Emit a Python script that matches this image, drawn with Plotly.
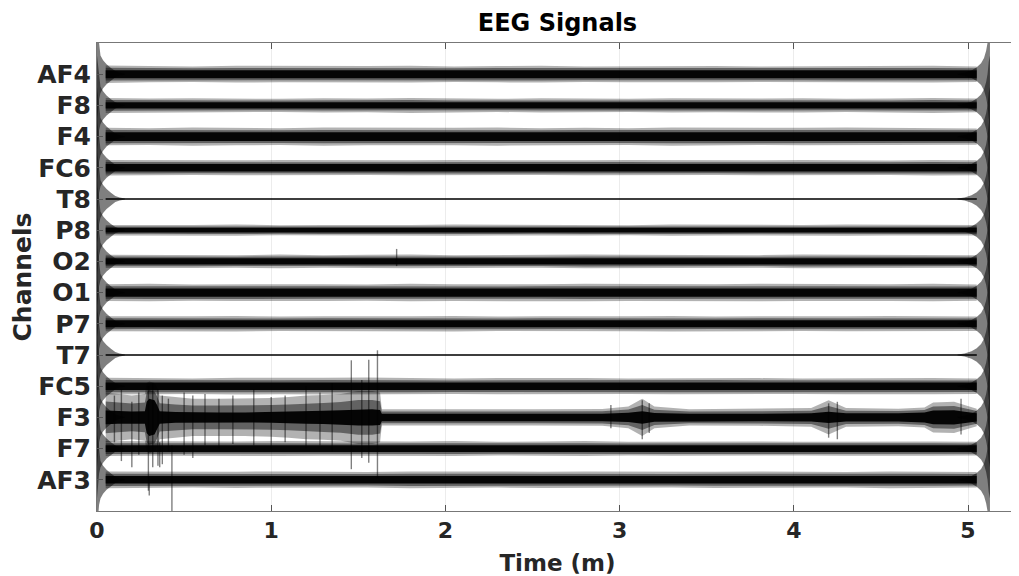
import plotly.graph_objects as go

# ---------------- data ----------------
channels = ["AF3", "F7", "F3", "FC5", "T7", "P7", "O1", "O2", "P8", "T8", "FC6", "F4", "F8", "AF4"]
channel_pos = list(range(1, 15))

# common time grid (minutes) for band envelopes of ordinary channels
t_env = [0.05, 0.3, 0.55, 0.8, 1.05, 1.3, 1.55, 1.8, 2.05, 2.3, 2.55,
         2.8, 3.05, 3.3, 3.55, 3.8, 4.05, 4.3, 4.55, 4.8, 5.05]

# dense-core half width (channel units) per channel
core_half = {
    "AF3": 0.12, "F7": 0.11, "FC5": 0.12, "T7": 0.018, "P7": 0.11, "O1": 0.13,
    "O2": 0.10, "P8": 0.075, "T8": 0.018, "FC6": 0.12, "F4": 0.14, "F8": 0.10, "AF4": 0.13,
}

# outer (fuzzy) half width per channel on t_env
fringe_AF4 = [0.28, 0.26, 0.25, 0.27, 0.26, 0.25, 0.26, 0.27, 0.25, 0.26, 0.27, 0.25, 0.26, 0.27, 0.26, 0.25, 0.26, 0.27, 0.26, 0.27, 0.25]
fringe_F8 = [0.24, 0.22, 0.23, 0.22, 0.21, 0.23, 0.22, 0.24, 0.22, 0.21, 0.23, 0.22, 0.21, 0.23, 0.22, 0.22, 0.23, 0.21, 0.22, 0.24, 0.22]
fringe_F4 = [0.28, 0.27, 0.29, 0.28, 0.27, 0.29, 0.28, 0.27, 0.28, 0.29, 0.27, 0.28, 0.27, 0.29, 0.28, 0.27, 0.28, 0.29, 0.28, 0.27, 0.26]
fringe_FC6 = [0.25, 0.24, 0.23, 0.24, 0.25, 0.24, 0.23, 0.24, 0.25, 0.24, 0.23, 0.24, 0.25, 0.24, 0.23, 0.24, 0.25, 0.24, 0.23, 0.25, 0.24]
fringe_T8 = [0.03] * 21
fringe_P8 = [0.17, 0.16, 0.17, 0.18, 0.16, 0.17, 0.16, 0.17, 0.18, 0.17, 0.16, 0.17, 0.16, 0.18, 0.17, 0.16, 0.17, 0.18, 0.17, 0.16, 0.17]
fringe_O2 = [0.21, 0.2, 0.21, 0.2, 0.22, 0.2, 0.21, 0.22, 0.2, 0.21, 0.2, 0.22, 0.21, 0.2, 0.21, 0.2, 0.22, 0.21, 0.2, 0.21, 0.2]
fringe_O1 = [0.27, 0.28, 0.26, 0.27, 0.28, 0.27, 0.26, 0.28, 0.27, 0.26, 0.27, 0.28, 0.27, 0.26, 0.27, 0.28, 0.27, 0.26, 0.27, 0.28, 0.26]
fringe_P7 = [0.24, 0.23, 0.24, 0.25, 0.23, 0.24, 0.23, 0.24, 0.25, 0.23, 0.24, 0.23, 0.24, 0.25, 0.23, 0.24, 0.23, 0.24, 0.25, 0.24, 0.23]
fringe_T7 = [0.03] * 21
fringe_FC5 = [0.27, 0.26, 0.25, 0.27, 0.26, 0.27, 0.28, 0.26, 0.25, 0.26, 0.27, 0.26, 0.25, 0.26, 0.27, 0.26, 0.25, 0.26, 0.27, 0.26, 0.25]
fringe_F7 = [0.24, 0.23, 0.22, 0.23, 0.24, 0.23, 0.22, 0.23, 0.24, 0.22, 0.23, 0.24, 0.22, 0.23, 0.24, 0.23, 0.22, 0.23, 0.24, 0.23, 0.22]
fringe_AF3 = [0.27, 0.26, 0.25, 0.26, 0.27, 0.26, 0.25, 0.27, 0.26, 0.25, 0.26, 0.27, 0.26, 0.25, 0.26, 0.27, 0.26, 0.25, 0.27, 0.26, 0.25]

# F3 has its own, more detailed envelope (large artefacts in the first 1.6 min)
f3_t = [0.05, 0.12, 0.2, 0.275, 0.285, 0.3, 0.33, 0.345, 0.36, 0.45, 0.55, 0.7, 0.85, 1.0,
        1.1, 1.2, 1.3, 1.4, 1.5, 1.58, 1.625, 1.635, 1.8, 2.1, 2.5, 2.9, 3.05, 3.13, 3.2,
        3.4, 3.8, 4.1, 4.2, 4.3, 4.6, 4.75, 4.8, 4.92, 4.98, 5.05]
f3_core = [0.22, 0.2, 0.19, 0.2, 0.5, 0.6, 0.55, 0.4, 0.2, 0.17, 0.16, 0.16, 0.16, 0.17,
           0.18, 0.2, 0.21, 0.23, 0.26, 0.26, 0.24, 0.12, 0.12, 0.12, 0.12, 0.12, 0.15, 0.2,
           0.14, 0.12, 0.12, 0.13, 0.18, 0.13, 0.13, 0.16, 0.22, 0.23, 0.18, 0.13]
f3_fringe = [0.8, 0.75, 0.7, 0.75, 1.1, 1.15, 1.1, 0.95, 0.7, 0.65, 0.6, 0.6, 0.6, 0.62,
             0.65, 0.7, 0.72, 0.75, 0.85, 0.85, 0.8, 0.26, 0.26, 0.25, 0.26, 0.27, 0.35, 0.6,
             0.35, 0.26, 0.27, 0.3, 0.55, 0.3, 0.28, 0.32, 0.48, 0.5, 0.4, 0.28]

# isolated spikes: channel, time, top, bottom (channel units relative to the trace)
spike_ch = ["F3"] * 30 + ["F7", "O2", "AF3", "F7"]
spike_t = [0.1, 0.14, 0.2, 0.24, 0.295, 0.32, 0.35, 0.375, 0.41, 0.5, 0.55, 0.62, 0.7,
           0.78, 0.9, 1.0, 1.08, 1.2, 1.28, 1.35, 1.46, 1.52, 1.56, 1.61, 3.13, 3.17,
           4.2, 4.25, 4.96, 2.95,
           0.43, 1.72, 0.3, 0.36]
spike_hi = [0.7, 0.9, 0.5, 0.8, 1.0, 1.1, 0.9, 0.7, 0.6, 0.8, 0.7, 0.75, 0.6,
            0.7, 0.9, 0.65, 0.7, 1.0, 0.8, 1.1, 1.83, 1.2, 1.85, 2.15, 0.55, 0.45,
            0.45, 0.5, 0.6, 0.4,
            0.1, 0.4, 0.1, 0.2]
spike_lo = [-0.8, -1.4, -1.6, -1.2, -2.35, -1.6, -1.55, -1.5, -1.1, -1.2, -1.3, -0.9, -1.0,
            -0.85, -0.9, -1.0, -0.8, -1.0, -0.9, -1.1, -1.66, -1.3, -1.45, -1.95, -0.7, -0.5,
            -0.65, -0.7, -0.55, -0.35,
            -2.1, -0.15, -0.5, -0.6]

# filter ringing at both ends of the recording (half amplitude, channel units)
ring_start_t = [0.0, 0.006, 0.012, 0.02, 0.035, 0.055, 0.08, 0.105, 0.13, 0.16]
ring_start_amp = [1.6, 1.3, 0.8, 0.6, 0.45, 0.32, 0.2, 0.1, 0.045, 0.015]
ring_end_t = [4.94, 4.98, 5.02, 5.05, 5.075, 5.092, 5.104, 5.112, 5.119, 5.126]
ring_end_amp = [0.015, 0.05, 0.12, 0.22, 0.35, 0.52, 0.75, 1.0, 1.4, 1.6]

x_ticks = [0, 1, 2, 3, 4, 5]

fringes = {
    "AF4": fringe_AF4, "F8": fringe_F8, "F4": fringe_F4, "FC6": fringe_FC6, "T8": fringe_T8,
    "P8": fringe_P8, "O2": fringe_O2, "O1": fringe_O1, "P7": fringe_P7, "T7": fringe_T7,
    "FC5": fringe_FC5, "F7": fringe_F7, "AF3": fringe_AF3,
}

# ---------------- figure ----------------
fig = go.Figure()
FRINGE = "rgba(0,0,0,0.30)"
MID = "rgba(0,0,0,0.45)"
CORE = "rgba(0,0,0,0.95)"
RING = "rgba(0,0,0,0.5)"


def band(ts, half, center, color):
    xs = list(ts) + list(ts)[::-1]
    ys = [center + h for h in half] + [center - h for h in half][::-1]
    fig.add_trace(go.Scatter(x=xs, y=ys, fill="toself", fillcolor=color, mode="lines",
                             line=dict(width=0), hoverinfo="skip", showlegend=False))


pos = dict(zip(channels, channel_pos))
for ch in channels:
    c = pos[ch]
    if ch == "F3":
        ts, outer, inner = f3_t, f3_fringe, f3_core
    else:
        ts, outer, inner = t_env, fringes[ch], [core_half[ch]] * len(t_env)
    band(ts, outer, c, FRINGE)
    band(ts, [(a + b) / 2 for a, b in zip(outer, inner)], c, MID)
    band(ts, inner, c, CORE)
    band(ring_start_t, ring_start_amp, c, RING)
    band(ring_end_t, ring_end_amp, c, RING)

sx, sy = [], []
for ch, t, hi, lo in zip(spike_ch, spike_t, spike_hi, spike_lo):
    sx += [t, t, None]
    sy += [pos[ch] + hi, pos[ch] + lo, None]
fig.add_trace(go.Scatter(x=sx, y=sy, mode="lines", line=dict(color="rgba(0,0,0,0.5)", width=1.4),
                         hoverinfo="skip", showlegend=False))

FONT = "DejaVu Sans"
TXT = "#262626"
# the page body adds an 8px offset, so the figure is 8px smaller and margins shifted
fig.update_layout(
    width=1011, height=568,
    margin=dict(l=89, r=1, t=35, b=65, autoexpand=False),
    paper_bgcolor="white", plot_bgcolor="white",
    title=dict(text="EEG Signals", x=0.5, xanchor="center", xref="paper",
               y=0.975, yanchor="middle", yref="container",
               font=dict(family=FONT, size=24, color="#000", weight="bold")),
    xaxis=dict(range=[0, 5.287], tickvals=x_ticks, ticktext=[str(v) for v in x_ticks],
               ticks="inside", ticklen=6, tickcolor="#555", mirror="ticks",
               showline=True, linecolor="#777", linewidth=1, automargin=False,
               showgrid=True, gridcolor="#ececec", gridwidth=1, zeroline=False,
               tickfont=dict(family=FONT, size=22, color=TXT, weight="bold"),
               title=dict(text="Time (m)", standoff=16,
                          font=dict(family=FONT, size=23, color=TXT, weight="bold"))),
    yaxis=dict(range=[0, 15], tickvals=channel_pos, ticktext=channels,
               ticks="inside", ticklen=6, tickcolor="#555", mirror="ticks",
               showline=True, linecolor="#777", linewidth=1, automargin=False,
               showgrid=False, zeroline=False,
               tickfont=dict(family=FONT, size=25, color=TXT, weight="bold"),
               title=dict(text="Channels", standoff=1,
                          font=dict(family=FONT, size=25, color=TXT, weight="bold"))),
)

fig.write_html("out.html")
